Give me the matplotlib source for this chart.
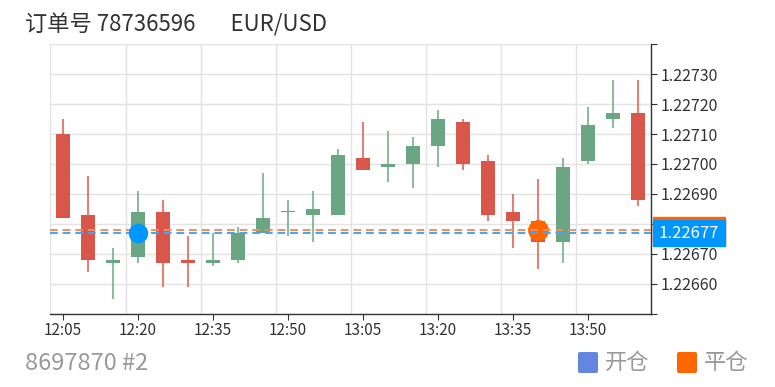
import matplotlib
matplotlib.use('Agg')
import matplotlib.pyplot as plt
import matplotlib.ticker as tck
from matplotlib.patches import Rectangle, FancyBboxPatch
from matplotlib.transforms import blended_transform_factory, IdentityTransform

plt.rcParams['font.family'] = ['Noto Sans CJK SC', 'DejaVu Sans']

# 5-minute candles, EUR/USD
times = ['12:05', '12:10', '12:15', '12:20', '12:25', '12:30', '12:35', '12:40',
         '12:45', '12:50', '12:55', '13:00', '13:05', '13:10', '13:15', '13:20',
         '13:25', '13:30', '13:35', '13:40', '13:45', '13:50', '13:55', '14:00']
opens = [1.22710, 1.22683, 1.22667, 1.22669, 1.22684, 1.22668, 1.22667, 1.22668,
         1.22677, 1.22684, 1.22683, 1.22683, 1.22702, 1.22699, 1.22700, 1.22706,
         1.22714, 1.22701, 1.22684, 1.22681, 1.22674, 1.22701, 1.22715, 1.22717]
highs = [1.22715, 1.22696, 1.22672, 1.22691, 1.22688, 1.22676, 1.22677, 1.22679,
         1.22697, 1.22688, 1.22691, 1.22705, 1.22714, 1.22711, 1.22709, 1.22718,
         1.22715, 1.22703, 1.22690, 1.22695, 1.22702, 1.22719, 1.22728, 1.22728]
lows = [1.22682, 1.22664, 1.22655, 1.22667, 1.22659, 1.22659, 1.22666, 1.22667,
        1.22677, 1.22676, 1.22674, 1.22683, 1.22698, 1.22694, 1.22692, 1.22699,
        1.22698, 1.22681, 1.22672, 1.22665, 1.22667, 1.22700, 1.22712, 1.22686]
closes = [1.22682, 1.22668, 1.22668, 1.22684, 1.22667, 1.22667, 1.22668, 1.22677,
          1.22682, 1.22684, 1.22685, 1.22703, 1.22698, 1.22700, 1.22706, 1.22715,
          1.22700, 1.22683, 1.22681, 1.22674, 1.22699, 1.22713, 1.22717, 1.22688]

tick_labels = ['12:05', '12:20', '12:35', '12:50', '13:05', '13:20', '13:35', '13:50']

open_time = '12:20'
open_price = 1.22677
close_time = '13:40'
close_price = 1.22678

title = '订单号 78736596       EUR/USD'
footer = '8697870 #2'
legend_names = ['开仓', '平仓']

up_color = '#6aa584'
down_color = '#d9574a'
open_color = '#0096ff'
close_color = '#ff6600'

fig = plt.figure(figsize=(7.75, 3.87), dpi=100)
ax = fig.add_axes([50.5 / 775, 73 / 387, 600 / 775, 270 / 387])

x = list(range(len(times)))
for i in x:
    o, h, l, c = opens[i], highs[i], lows[i], closes[i]
    col = up_color if c >= o else down_color
    ax.vlines(i, l, h, color=col, lw=1.5, alpha=0.75, zorder=2)
    body = max(abs(c - o), 0.000004)
    ax.bar(i, body, bottom=min(o, c), width=0.56, color=col, zorder=2)

ax.axhline(close_price, color='#ff8a4a', lw=1.4, ls=(0, (4, 2.5)), zorder=3)
ax.axhline(open_price, color='#3ea6ff', lw=1.4, ls=(0, (4, 2.5)), zorder=3)

ax.plot(times.index(close_time), close_price, 'o', ms=14, color=close_color, zorder=2.5)
ax.plot(times.index(open_time), open_price, 'o', ms=13, color=open_color, zorder=5)

ax.set_xlim(-0.5, len(times) - 0.5)
ax.set_ylim(1.22650, 1.22740)

ax.set_xticks([times.index(t) for t in tick_labels])
ax.set_xticklabels(tick_labels)
ax.xaxis.set_minor_locator(tck.FixedLocator([k - 0.5 for k in range(0, len(times) + 1, 3)]))
ax.tick_params(axis='x', which='major', length=4, color='#333333', labelsize=11,
               labelcolor='#333333', pad=2)
ax.tick_params(axis='x', which='minor', length=0)
ax.grid(True, axis='x', which='minor', color='#e3e3e3', lw=1)

yt = [1.22650 + 0.0001 * k for k in range(10)]
ax.yaxis.tick_right()
ax.set_yticks(yt)
ax.set_yticklabels(['' if k in (0, 3, 9) else f'{v:.5f}' for k, v in enumerate(yt)])
ax.tick_params(axis='y', length=4, color='#333333', labelsize=11.5, labelcolor='#333333', pad=3)
ax.grid(True, axis='y', which='major', color='#e3e3e3', lw=1)
ax.set_axisbelow(True)

for s in ['left', 'top']:
    ax.spines[s].set_visible(False)
for s in ['right', 'bottom']:
    ax.spines[s].set_color('#333333')
    ax.spines[s].set_linewidth(1)

# price labels on the right axis
trans = blended_transform_factory(ax.transAxes, ax.transData)
box_h = 0.000089
ax.add_patch(Rectangle((1.004, close_price - box_h / 2), 0.12, box_h, transform=trans,
                       color=close_color, clip_on=False, zorder=6))
ax.add_patch(Rectangle((1.004, open_price - box_h / 2), 0.12, box_h, transform=trans,
                       color=open_color, clip_on=False, zorder=7))
ax.text(1.064, open_price, f'{open_price:.5f}', transform=trans, color='white',
        ha='center', va='center', fontsize=12, zorder=8, clip_on=False)

fig.text(25 / 775, 1 - 25 / 387, title, fontsize=16, color='#333333', va='center')
fig.text(25 / 775, 1 - 363 / 387, footer, fontsize=17, color='#999999', va='center')

for k, (name, col) in enumerate(zip(legend_names, ['#6586e0', close_color])):
    x0 = 578 + k * 99
    fig.add_artist(FancyBboxPatch((x0, 14), 20, 21, boxstyle='round,pad=0,rounding_size=2',
                                  transform=IdentityTransform(), facecolor=col, lw=0))
    fig.text((x0 + 27) / 775, 1 - 362.5 / 387, name, fontsize=16, color='#999999', va='center')

fig.savefig('out.png', dpi=100)
